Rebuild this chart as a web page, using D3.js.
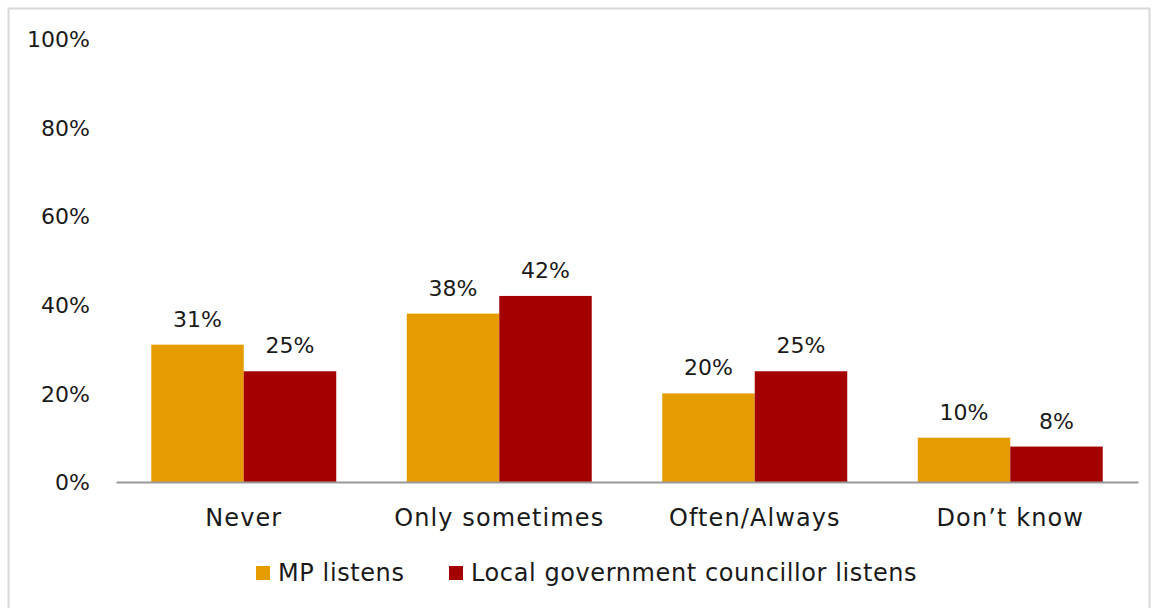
<!DOCTYPE html>
<html>
<head>
<meta charset="utf-8">
<script src="https://cdn.jsdelivr.net/npm/d3@7"></script>
<style>
  html, body { margin: 0; padding: 0; background: #fff; }
  svg { display: block; }
  text { font-family: "DejaVu Sans", sans-serif; fill: #1a1a1a; }
</style>
</head>
<body>
<svg id="chart" width="1158" height="608"></svg>
<script>
// Response categories and the two series (percent of respondents)
const categories = ["Never", "Only sometimes", "Often/Always", "Don\u2019t know"];
const seriesNames = ["MP listens", "Local government councillor listens"];
const mpValues = [31, 38, 20, 10];
const councillorValues = [25, 42, 25, 8];
const yTicks = [0, 20, 40, 60, 80, 100];
const colors = ["#E59C00", "#A50000"];

const svg = d3.select("#chart");

// outer frame
svg.append("rect")
  .attr("x", 8.5).attr("y", 8.5)
  .attr("width", 1141).attr("height", 610)
  .attr("fill", "none").attr("stroke", "#d9d9d9").attr("stroke-width", 2);

const plot = { left: 116, right: 1138, top: 39, bottom: 482 };

const x0 = d3.scaleBand().domain(categories)
  .range([plot.left, plot.right]).paddingInner(0.276).paddingOuter(0.138);
const x1 = d3.scaleBand().domain(seriesNames).range([0, x0.bandwidth()]);
const y = d3.scaleLinear().domain([0, 100]).range([plot.bottom, plot.top]);

const rows = categories.map((c, i) => ({
  cat: c,
  vals: [
    { s: seriesNames[0], v: mpValues[i], c: colors[0] },
    { s: seriesNames[1], v: councillorValues[i], c: colors[1] }
  ]
}));

// y axis labels (no axis line, no gridlines)
const yAxis = d3.axisLeft(y).tickValues(yTicks).tickSize(0).tickPadding(0)
  .tickFormat(d => d + "%");
const gy = svg.append("g").attr("transform", `translate(90,0)`).call(yAxis);
gy.select(".domain").remove();
gy.selectAll("text").attr("font-size", 22).style("font-family", '"DejaVu Sans", sans-serif')
  .attr("fill", "#1a1a1a").attr("dy", "0.35em");

// bars
const groups = svg.append("g").selectAll("g").data(rows).join("g")
  .attr("transform", d => `translate(${x0(d.cat)},0)`);

groups.selectAll("rect").data(d => d.vals).join("rect")
  .attr("x", d => x1(d.s))
  .attr("y", d => y(d.v))
  .attr("width", x1.bandwidth())
  .attr("height", d => y(0) - y(d.v))
  .attr("fill", d => d.c);

// value labels above each bar
groups.selectAll("text.val").data(d => d.vals).join("text")
  .attr("class", "val")
  .attr("x", d => x1(d.s) + x1.bandwidth() / 2)
  .attr("y", d => y(d.v) - 18)
  .attr("text-anchor", "middle")
  .attr("font-size", 22)
  .text(d => d.v + "%");

// x axis
const xAxis = d3.axisBottom(x0).tickSize(0).tickPadding(27);
const gx = svg.append("g").attr("transform", `translate(0,${plot.bottom})`).call(xAxis);
gx.select(".domain").attr("stroke", "#999").attr("stroke-width", 2);
gx.selectAll("text").attr("font-size", 24).style("font-family", '"DejaVu Sans", sans-serif')
  .style("letter-spacing", "1.1px")
  .attr("fill", "#1a1a1a").attr("dy", "0.72em");

// legend
const legend = svg.append("g").attr("transform", "translate(0,573)");
const legendX = [256, 449];
seriesNames.forEach((name, i) => {
  legend.append("rect").attr("x", legendX[i]).attr("y", -7)
    .attr("width", 14).attr("height", 14).attr("fill", colors[i]);
  legend.append("text").attr("x", legendX[i] + 22).attr("y", 0)
    .attr("dy", "0.35em").attr("font-size", 24)
    .style("letter-spacing", "0.6px").text(name);
});
</script>
</body>
</html>
